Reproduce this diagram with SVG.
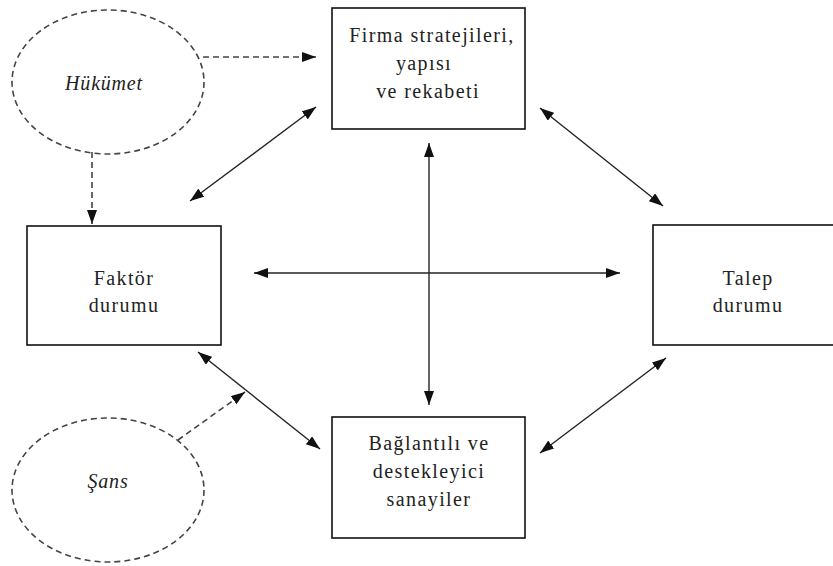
<svg xmlns="http://www.w3.org/2000/svg" width="833" height="566" viewBox="0 0 833 566">
<style>
.box{fill:#fff;stroke:#111;stroke-width:1.6}
.oval{fill:none;stroke:#444;stroke-width:1.6;stroke-dasharray:6,4}
.t{font-family:"Liberation Serif","Times New Roman",serif;font-size:20px;letter-spacing:1.4px;fill:#222;text-anchor:middle}
.i{font-style:italic;letter-spacing:0.8px}
.ln{stroke:#222;stroke-width:1.4;fill:none}
.dl{stroke:#444;stroke-width:1.6;fill:none;stroke-dasharray:6,4}
</style>
<defs>
<marker id="ah" viewBox="0 0 14 10" refX="14" refY="5" markerWidth="14" markerHeight="10" markerUnits="userSpaceOnUse" orient="auto-start-reverse">
<path d="M0,0 L14,5 L0,10 Z" fill="#111"/>
</marker>
</defs>
<rect width="833" height="566" fill="#fff"/>
<g id="connectors">
<line class="dl" x1="203" y1="57" x2="316" y2="57" marker-end="url(#ah)"/>
<line class="dl" x1="92" y1="152" x2="92" y2="224" marker-end="url(#ah)"/>
<line class="ln" x1="316" y1="107" x2="190" y2="201" marker-start="url(#ah)" marker-end="url(#ah)"/>
<line class="ln" x1="540" y1="108" x2="663" y2="206" marker-start="url(#ah)" marker-end="url(#ah)"/>
<line class="ln" x1="429" y1="143" x2="429" y2="405" marker-start="url(#ah)" marker-end="url(#ah)"/>
<line class="ln" x1="254" y1="273" x2="620" y2="273" marker-start="url(#ah)" marker-end="url(#ah)"/>
<line class="ln" x1="198" y1="352" x2="320" y2="449" marker-start="url(#ah)" marker-end="url(#ah)"/>
<line class="ln" x1="666" y1="358" x2="540" y2="453" marker-start="url(#ah)" marker-end="url(#ah)"/>
<line class="dl" x1="178" y1="440" x2="245" y2="392" marker-end="url(#ah)"/>
</g>
<g id="hukumet">
<ellipse class="oval" cx="108" cy="82" rx="96" ry="72"/>
<text class="t i" x="104" y="90">Hükümet</text>
</g>
<g id="sans">
<ellipse class="oval" cx="108" cy="490" rx="96" ry="72"/>
<text class="t i" x="108" y="488">Şans</text>
</g>
<g id="firma">
<rect class="box" x="332" y="8" width="193" height="121"/>
<text class="t" x="432" y="42">Firma stratejileri,</text>
<text class="t" x="424" y="70">yapısı</text>
<text class="t" x="428" y="98">ve rekabeti</text>
</g>
<g id="faktor">
<rect class="box" x="27" y="226" width="194" height="119"/>
<text class="t" x="124" y="285">Faktör</text>
<text class="t" x="124" y="312">durumu</text>
</g>
<g id="talep">
<rect class="box" x="653" y="225" width="193" height="120"/>
<text class="t" x="748" y="285">Talep</text>
<text class="t" x="748" y="312">durumu</text>
</g>
<g id="baglantili">
<rect class="box" x="332" y="417" width="193" height="121"/>
<text class="t" x="429" y="450">Bağlantılı ve</text>
<text class="t" x="429" y="478">destekleyici</text>
<text class="t" x="429" y="506">sanayiler</text>
</g>
</svg>
